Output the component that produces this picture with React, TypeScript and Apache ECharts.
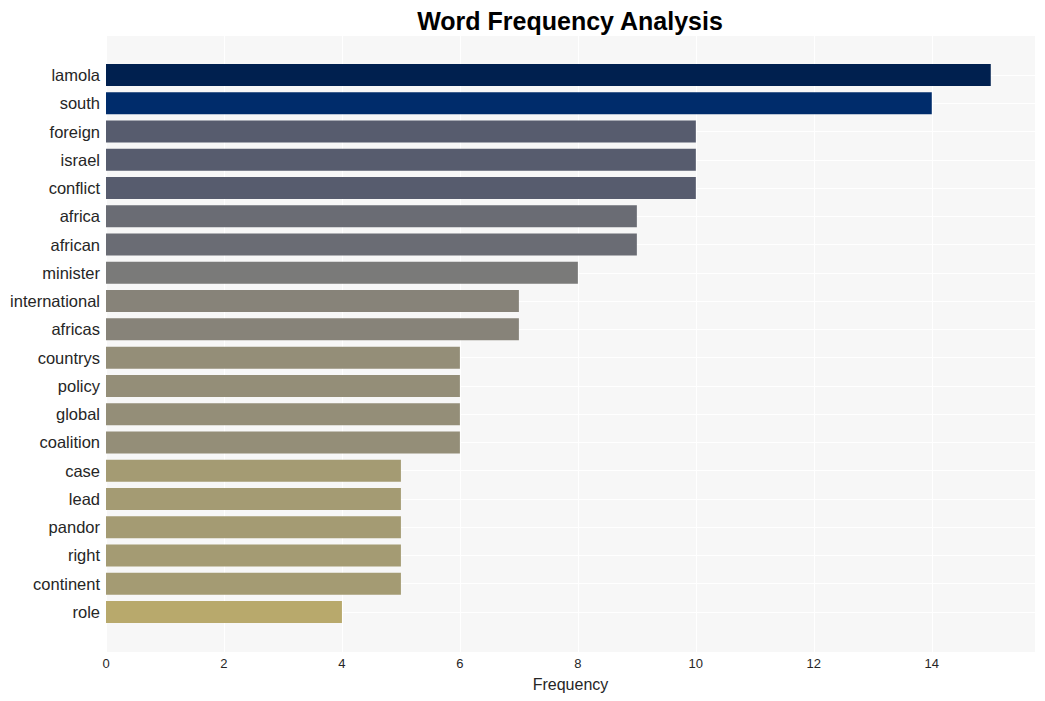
import React, { useEffect, useRef } from "react";
import * as echarts from "echarts";

const categories = [
  "lamola", "south", "foreign", "israel", "conflict", "africa", "african", "minister",
  "international", "africas", "countrys", "policy", "global", "coalition", "case",
  "lead", "pandor", "right", "continent", "role",
];
const values = [15, 14, 10, 10, 10, 9, 9, 8, 7, 7, 6, 6, 6, 6, 5, 5, 5, 5, 5, 4];
const barColors = [
  "#00204f", "#002c6b", "#575c6e", "#575c6e", "#575c6e", "#6a6c74", "#6a6c74", "#7a7a79",
  "#878379", "#878379", "#948e78", "#948e78", "#948e78", "#948e78", "#a49b73", "#a49b73",
  "#a49b73", "#a49b73", "#a49b73", "#b8a96c",
];
const xTicks = [0, 2, 4, 6, 8, 10, 12, 14];
const title = "Word Frequency Analysis";
const xName = "Frequency";

const FONT = "'Liberation Sans', Arial, Helvetica, sans-serif";

export default function App() {
  const ref = useRef<HTMLDivElement>(null);
  useEffect(() => {
    if (!ref.current) return;
    const chart = echarts.init(ref.current, undefined, { renderer: "svg" });
    const xMax = 15.75;
    chart.setOption({
      animation: false,
      title: {
        text: title,
        left: 565,
        textAlign: "center",
        top: 3,
        textStyle: { fontFamily: FONT, fontSize: 25, fontWeight: "bold", color: "#000" },
      },
      grid: [
        { left: 106, right: 10, top: 36, bottom: 49, show: true, backgroundColor: "#f7f7f7", borderWidth: 0 },
        { left: 106, right: 10, top: 75, bottom: 89, show: false },
      ],
      xAxis: [
        {
          type: "value",
          gridIndex: 0,
          min: 0,
          max: xMax,
          interval: 2,
          axisLine: { show: false },
          axisTick: { show: false },
          axisLabel: {
            fontFamily: FONT,
            fontSize: 13,
            color: "#262626",
            margin: 5,
            formatter: (v: number) => (xTicks.includes(v) ? String(v) : ""),
          },
          splitLine: { show: true, lineStyle: { color: "#ffffff", width: 1 } },
          name: xName,
          nameLocation: "middle",
          nameGap: 24,
          nameTextStyle: { fontFamily: FONT, fontSize: 16, color: "#262626" },
        },
        {
          type: "value",
          gridIndex: 1,
          min: 0,
          max: xMax,
          show: false,
          splitLine: { show: false },
        },
      ],
      yAxis: [
        { type: "value", gridIndex: 0, min: 0, max: 1, show: false, splitLine: { show: false } },
        {
          type: "category",
          gridIndex: 1,
          data: categories,
          inverse: true,
          boundaryGap: false,
          axisLine: { show: false },
          axisTick: { show: false },
          axisLabel: { fontFamily: FONT, fontSize: 16.5, color: "#262626", margin: 6, padding: [2, 0, 0, 0] },
          splitLine: { show: true, lineStyle: { color: "#ffffff", width: 1 } },
        },
      ],
      series: [
        {
          type: "bar",
          xAxisIndex: 1,
          yAxisIndex: 1,
          clip: false,
          barWidth: 22,
          data: values.map((v, i) => ({ value: v, itemStyle: { color: barColors[i] } })),
        },
      ],
    });
    return () => chart.dispose();
  }, []);
  return <div ref={ref} style={{ width: 1045, height: 701, position: "absolute", left: 0, top: 0 }} />;
}
